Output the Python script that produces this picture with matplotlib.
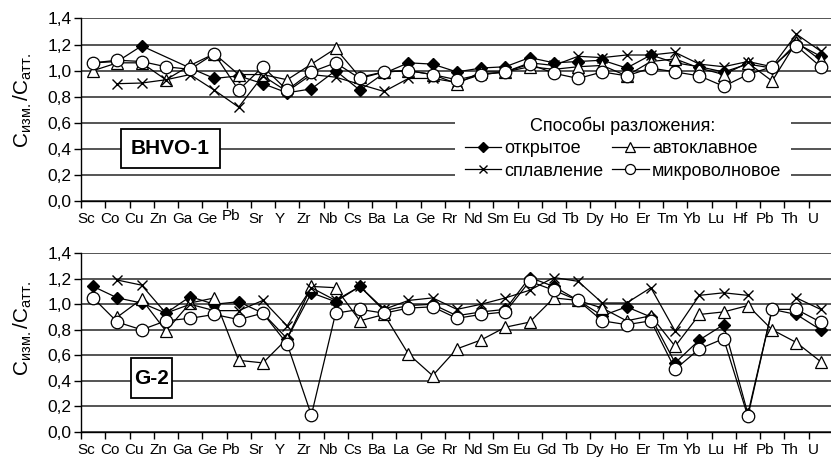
import numpy as np
import matplotlib
matplotlib.use("Agg")
import matplotlib.pyplot as plt
from matplotlib.patches import Rectangle
from matplotlib.ticker import FuncFormatter
from matplotlib.transforms import ScaledTranslation

plt.rcParams["font.family"] = ["Liberation Sans", "DejaVu Sans"]

elements = ["Sc", "Co", "Cu", "Zn", "Ga", "Ge", "Pb", "Sr", "Y", "Zr", "Nb", "Cs",
            "Ba", "La", "Ge", "Rr", "Nd", "Sm", "Eu", "Gd", "Tb", "Dy", "Ho", "Er",
            "Tm", "Yb", "Lu", "Hf", "Pb", "Th", "U"]
nan = np.nan

# BHVO-1: measured / certified concentration
bhvo_open = [1.06, 1.07, 1.19, nan, 1.02, 0.94, 0.96, 0.90, 0.83, 0.86, 1.00, 0.85,
             0.98, 1.06, 1.05, 0.99, 1.02, 1.03, 1.10, 1.06, 1.07, 1.08, 1.02, 1.12,
             1.06, 1.03, 0.99, 1.05, 1.02, 1.21, 1.11]
bhvo_autoclave = [1.00, 1.06, 1.06, 0.93, 1.04, 1.13, 0.97, 0.97, 0.93, 1.05, 1.17, 0.95,
                  0.99, 1.00, 0.97, 0.90, 0.99, 0.99, 1.03, 1.01, 1.03, 1.04, 0.96, 1.07,
                  1.09, 1.02, 0.97, 1.06, 0.92, 1.22, 1.08]
bhvo_fusion = [nan, 0.90, 0.905, 0.93, 0.97, 0.85, 0.72, 0.96, 0.84, 0.97, 0.95, nan,
               0.84, 0.94, 0.94, 0.91, 0.97, 0.99, 1.06, 1.04, 1.11, 1.10, 1.12, 1.12,
               1.14, 1.05, 1.03, 1.07, 1.03, 1.28, 1.15]
bhvo_microwave = [1.06, 1.08, 1.07, 1.03, 1.01, 1.13, 0.85, 1.03, 0.85, 0.99, 1.06, 0.94,
                  0.99, 1.00, 0.97, 0.93, 0.97, 0.99, 1.05, 0.98, 0.94, 0.99, 0.96, 1.02,
                  0.99, 0.96, 0.88, 0.97, 1.03, 1.19, 1.03]

# G-2
g2_open = [1.14, 1.05, 1.01, 0.93, 1.06, 1.00, 1.02, 0.93, 0.73, 1.09, 1.02, 1.14,
           0.95, 0.99, 1.00, 0.91, 0.94, 0.96, 1.21, 1.14, 1.03, 0.91, 0.98, 0.90,
           0.54, 0.72, 0.84, 0.14, 0.96, 0.92, 0.80]
g2_autoclave = [nan, 0.90, 1.04, 0.79, 1.01, 1.05, 0.56, 0.54, 0.73, 1.14, 1.13, 0.87,
                0.92, 0.61, 0.44, 0.65, 0.72, 0.82, 0.86, 1.05, 1.03, 0.97, 0.87, 0.91,
                0.67, 0.92, 0.94, 0.99, 0.80, 0.70, 0.55]
g2_fusion = [nan, 1.19, 1.15, 0.93, 1.00, 0.95, 0.95, 1.03, 0.83, 1.13, 1.03, 1.14,
             0.96, 1.03, 1.05, 0.96, 1.00, 1.05, 1.11, 1.21, 1.18, 1.01, 1.01, 1.13,
             0.79, 1.07, 1.09, 1.07, nan, 1.05, 0.96]
g2_microwave = [1.05, 0.86, 0.80, 0.87, 0.89, 0.92, 0.88, 0.93, 0.69, 0.13, 0.93, 0.96,
                0.93, 0.97, 0.98, 0.89, 0.92, 0.94, 1.18, 1.11, 1.03, 0.87, 0.84, 0.87,
                0.49, 0.65, 0.73, 0.12, 0.96, 0.96, 0.86]

method_names = ["открытое", "автоклавное", "сплавление", "микроволновое"]

styles = [
    dict(marker="D", markersize=6.5, markerfacecolor="black", markeredgecolor="black"),
    dict(marker="^", markersize=8.5, markerfacecolor="white", markeredgecolor="black",
         markeredgewidth=0.9),
    dict(marker="x", markersize=7, markeredgecolor="black", markeredgewidth=1.0),
    dict(marker="o", markersize=9, markerfacecolor="white", markeredgecolor="black",
         markeredgewidth=0.9),
]

fig = plt.figure(figsize=(8.31, 4.59), dpi=100)
W, H = 831, 459
ax1 = fig.add_axes([81 / W, (H - 201) / H, 751.75 / W, 182.5 / H])
ax2 = fig.add_axes([81 / W, (H - 431.7) / H, 751.75 / W, 178.4 / H])

x = np.arange(len(elements))


def draw_panel(ax, series, join_gaps, label_y):
    handles = []
    for vals, name, st in zip(series, method_names, styles):
        v = np.array(vals, dtype=float)
        if join_gaps:
            m = ~np.isnan(v)
            h, = ax.plot(x[m], v[m], color="black", lw=0.9, label=name, **st)
        else:
            h, = ax.plot(x, v, color="black", lw=0.9, label=name, **st)
        handles.append(h)

    ax.set_xlim(-0.5, len(elements) - 0.5)
    ax.set_ylim(0, 1.4)
    ax.set_yticks(np.arange(0, 1.41, 0.2))
    ax.yaxis.set_major_formatter(FuncFormatter(lambda v, p: f"{v:.1f}".replace(".", ",")))
    ax.yaxis.grid(True, color="#262626", lw=1.1)
    ax.set_axisbelow(True)
    for s in ("top", "right"):
        ax.spines[s].set_visible(False)
    ax.spines["left"].set_linewidth(1.0)
    ax.spines["bottom"].set_linewidth(1.0)
    ax.tick_params(axis="y", direction="out", length=5, width=1, labelsize=12.5, pad=2)

    # labels sit a little left of the category centre, tick marks between categories
    ax.set_xticks(x - 0.3, elements)
    ax.set_xticks(np.arange(-0.5, len(elements), 1.0), minor=True)
    ax.tick_params(axis="x", which="major", length=0, labelsize=11, pad=8)
    ax.tick_params(axis="x", which="minor", direction="out", length=5, width=1)

    ax.set_ylabel(r"$\mathregular{C_{изм.}/C_{атт.}}$", fontsize=15)
    ax.yaxis.set_label_coords(-0.062, label_y)
    return handles


h = draw_panel(ax1, [bhvo_open, bhvo_autoclave, bhvo_fusion, bhvo_microwave], True, 0.55)
draw_panel(ax2, [g2_open, g2_autoclave, g2_fusion, g2_microwave], False, 0.58)

# raised "Pb" in the upper axis
lbl = ax1.get_xticklabels()[6]
lbl.set_transform(lbl.get_transform() + ScaledTranslation(0, 2 / 72, fig.dpi_scale_trans))

# sample name boxes
for ax, name, (x0, y0, x1, y1) in [(ax1, "BHVO-1", (0.0532, 0.181, 0.185, 0.395)),
                                    (ax2, "G-2", (0.0665, 0.189, 0.121, 0.413))]:
    ax.add_patch(Rectangle((x0, y0), x1 - x0, y1 - y0, transform=ax.transAxes,
                           facecolor="white", edgecolor="black", lw=1.3, zorder=5))
    ax.text((x0 + x1) / 2, (y0 + y1) / 2, name, transform=ax.transAxes, ha="center",
            va="center", fontsize=15, fontweight="bold", zorder=6)

leg = ax1.legend(handles=[h[0], h[2], h[1], h[3]], ncol=2, title="Способы разложения:",
                 loc="center", bbox_to_anchor=(0.721, 0.29), frameon=True, fancybox=False,
                 edgecolor="none", facecolor="white", framealpha=1, fontsize=13,
                 title_fontsize=13, handlelength=2.0, handletextpad=0.2,
                 columnspacing=0.5, labelspacing=0.3, borderpad=0.55, borderaxespad=0,
                 markerscale=0.8)
leg.set_zorder(6)

fig.savefig("out.png", dpi=100)
